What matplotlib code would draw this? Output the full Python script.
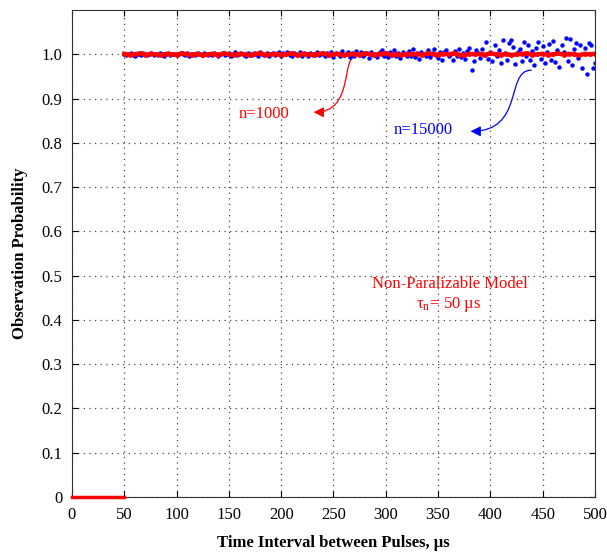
import numpy as np
import matplotlib.pyplot as plt
from matplotlib.patches import FancyArrowPatch
from matplotlib.path import Path

plt.rcParams['font.family'] = ['Liberation Serif', 'DejaVu Serif']
plt.rcParams['mathtext.fontset'] = 'stix'

# n=15000 run: time interval (us) and deviation from 1.0 (x 0.001)
t_blue = np.arange(50, 501, 2)
dev_blue = [
    1, -2, 0, 2, -1, -3, 1, 0, -2, 2, 1, -1, 0, 3, -2, 1, -1, 2, 0, -3, 1, 2, -1, 0, 1,
    -2, 1, 3, 0, -1, 2, -3, 1, 0, -2, 2, 1, -1, 3, 0, -2, 1, -1, 2, 0, -3, 1, 2, -1, 0,
    2, -3, 1, 4, -2, 0, 3, -1, -4, 2, 1, -2, 3, 0, -3, 4, 1, -1, 2, -4, 0, 3, -2, 1, 5,
    -3, 2, 0, 4, -2, -5, 3, 1, -1, 6, -3, 2, 0, -4, 3, 1, -2, 5, -1, 0, 3, -5, 2, -2, 4,
    -6, 3, 1, -4, 7, -2, 0, 5, -7, 2, -3, 8, -1, 4, -5, 0, 3, -8, 6, -2, 1, -6, 4, 9, -3,
    2, -7, 5, -1, 10, -4, 3, -9, 6, 0, -5, 8, -3, 11, -6, 2, -10, 5, 1, -4, 9, -7, 3, 12, -2,
    -8, 6, -12, 4, 10, -5, 1, -14, 8, -3, 13, -6, 2, -10, 7, 15, -35, -16, 9, 3, -8, 12, -2, 27, -11,
    6, -15, 22, -4, 10, -20, 32, 3, -12, 25, 32, 17, -22, 5, 11, -16, 27, -3, 20, -14, 8, -25, 15, 28, -10,
    18, -20, 6, 24, -12, 30, -18, 10, -28, 22, 4, 37, -15, 34, -24, 12, 26, -8, 20, -30, 14, -45, 25, 22, -30,
    -20,
]
p_blue = 1.0 + np.array(dev_blue) / 1000.0

# n=1000 run
t_red = np.arange(50, 501, 5)
dev_red = [
    1, -1, 0, 2, -1, 1, 0, -2, 1, 0,
    -1, 2, 0, -1, 1, -2, 0, 1, -1, 2,
    0, -1, 1, 0, -2, 1, 2, -1, 0, 1,
    -1, 0, 2, -2, 1, 0, -1, 1, 2, -1,
    0, 1, -2, 0, 1, -1, 2, 0, -1, 1,
    2, -1, 0, -2, 1, 0, 1, -1, 2, 0,
    -1, 1, 0, 2, -1, -2, 1, 0, 1, -1,
    2, 0, -1, 1, -2, 0, 1, 2, -1, 0,
    1, -1, 0, 2, -1, 1, 0, -2, 1, 0, 1,
]
p_red = 1.0 + np.array(dev_red) / 1000.0

# dead time region: nothing observed
t_dead = [0, 50]
p_dead = [0, 0]

fig = plt.figure(figsize=(6.07, 5.55), dpi=100)
ax = fig.add_axes([0.1186, 0.1045, 0.8616, 0.8775])

ax.plot(t_blue, p_blue, 'o', color='#0000ff', ms=3.2, mew=0)
ax.plot(t_red, p_red, '-', color='#ff0000', lw=3.2)
ax.plot(t_red, p_red, 'o', color='#ff0000', ms=3.5, mew=0)
ax.plot(t_dead, p_dead, '-', color='#ff0000', lw=2.5, clip_on=False, zorder=5)

ax.set_xlim(0, 500)
ax.set_ylim(0, 1.1)
ax.set_xticks(np.arange(0, 501, 50))
ax.set_yticks(np.arange(0, 1.01, 0.1))
ax.set_yticklabels(['0'] + ['%.1f' % v for v in np.arange(0.1, 1.01, 0.1)])
ax.tick_params(direction='in', top=True, right=True, labelsize=12, length=4, pad=7)
ax.grid(True, linestyle=(0, (1, 3.5)), color='#444444', lw=0.9)
for s in ax.spines.values():
    s.set_color('#333333')

ax.set_xlabel('Time Interval between Pulses, µs', fontsize=12, fontweight='bold', labelpad=9)
ax.set_ylabel('Observation Probability', fontsize=12, fontweight='bold', labelpad=10)


def s_arrow(p0, p1, p2, p3, color):
    path = Path([p0, p1, p2, p3], [Path.MOVETO, Path.CURVE4, Path.CURVE4, Path.CURVE4])
    arr = FancyArrowPatch(path=path, arrowstyle='-|>', mutation_scale=15,
                          color=color, lw=0.9)
    ax.add_patch(arr)


s_arrow((273, 0.998), (256, 0.998), (271, 0.869), (231, 0.869), '#ff0000')
s_arrow((439, 0.964), (414, 0.964), (433, 0.826), (381, 0.826), '#0000ff')

ax.text(184, 0.864, 'n=1000', color='#ff0000', fontsize=12, ha='center', va='center')
ax.text(336, 0.830, 'n=15000', color='#0000ff', fontsize=12, ha='center', va='center')
ax.text(361, 0.480, 'Non-Paralizable Model', color='#ff0000', fontsize=12,
        ha='center', va='center')
ax.text(360, 0.434, 'τ$_{\\mathregular{n}}$= 50 µs', color='#ff0000', fontsize=12,
        ha='center', va='center')

fig.savefig('out.png', dpi=100)
